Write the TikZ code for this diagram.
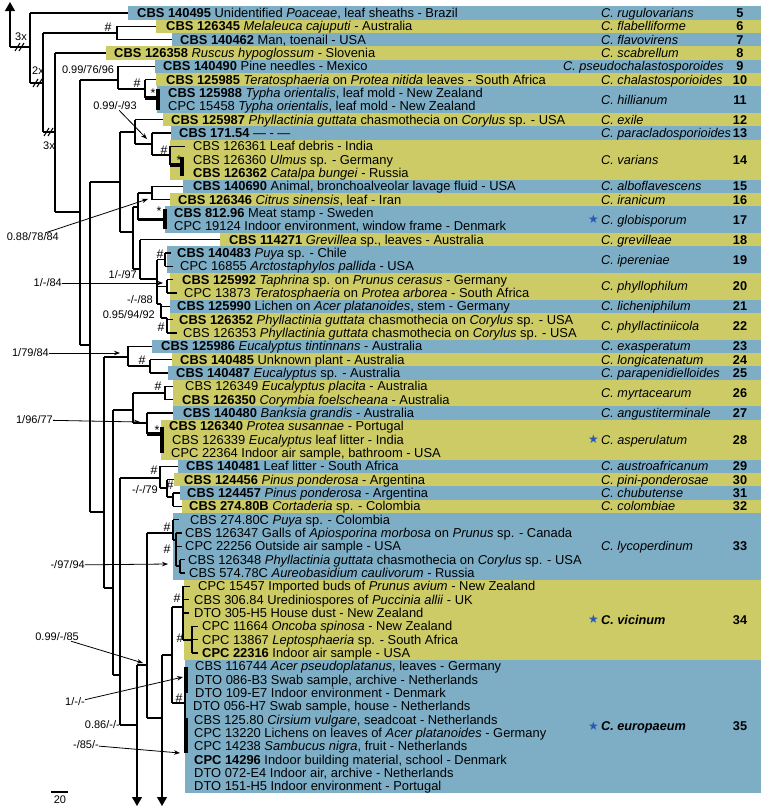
\documentclass[tikz,border=0pt]{standalone}
\usepackage{fontspec}
\setmainfont{Liberation Sans}
\newfontfamily\symfont{DejaVu Sans}
\usetikzlibrary{arrows.meta}
\definecolor{bandblue}{RGB}{125,174,198}
\definecolor{bandyellow}{RGB}{204,203,102}
\definecolor{starblue}{RGB}{40,90,180}
% row centre of isolate #1
\newcommand{\rowy}[1]{13+13.333*#1}
\newcommand{\isolate}[3]{\node[strain] (r#1) at (#2,{\rowy{#1}+4.6}) {#3};}
\newcommand{\band}[4]{\fill[#4] (#1,{\rowy{#2}-6.67}) rectangle (761,{\rowy{#3}+6.67});}
\newcommand{\taxon}[4]{%
  \node[species] (sp#4) at (#1,{\rowy{#2}+4.5}) {#3};
  \node[cladeno] (no#4) at (740,{\rowy{#2}+4.5}) {#4};}
\newcommand{\startag}[2]{\node[startag] (st#1) at (599,{\rowy{#2}+4.3}) {★};}
\newcommand{\hash}[3]{\node[nodemark] (#1) at (#2,#3) {\#};}
\newcommand{\full}[3]{\node[nodemark] (#1) at (#2,#3) {*};}
\tikzset{
  strain/.style={anchor=base west, inner sep=0pt, font=\fontsize{12.9}{13.3}\selectfont},
  species/.style={anchor=base west, inner sep=0pt, font=\fontsize{12.7}{13}\selectfont\itshape},
  cladeno/.style={anchor=base, inner sep=0pt, font=\fontsize{12.7}{13}\selectfont\bfseries},
  startag/.style={anchor=base east, inner sep=0pt, text=starblue, font=\symfont\fontsize{12}{12}\selectfont},
  support/.style={inner sep=0pt, font=\fontsize{11}{11}\selectfont},
  nodemark/.style={inner sep=0pt, font=\fontsize{12.5}{12.5}\selectfont},
  branch/.style={line width=1.1pt},
  fullsup/.style={line width=3.4pt},
  pointer/.style={line width=0.8pt, -{Stealth[length=6pt,width=4.5pt]}},
  cut/.style={line width=1.1pt, -{Triangle[width=10pt,length=9pt]}},
}
\begin{document}
\begin{tikzpicture}[x=1pt,y=-1pt]
\useasboundingbox (0,0) rectangle (761,807);

% coloured bands
\band{128}{0}{0}{bandblue}
\band{156}{1}{1}{bandyellow}
\band{172}{2}{2}{bandblue}
\band{106}{3}{3}{bandyellow}
\band{155}{4}{4}{bandblue}
\band{156}{5}{5}{bandyellow}
\band{157}{6}{7}{bandblue}
\band{163}{8}{8}{bandyellow}
\band{171}{9}{9}{bandblue}
\band{170}{10}{12}{bandyellow}
\band{183}{13}{13}{bandblue}
\band{170}{14}{14}{bandyellow}
\band{165}{15}{16}{bandblue}
\band{220}{17}{17}{bandyellow}
\band{167}{18}{19}{bandblue}
\band{170}{20}{21}{bandyellow}
\band{170}{22}{22}{bandblue}
\band{170}{23}{24}{bandyellow}
\band{152}{25}{25}{bandblue}
\band{172}{26}{26}{bandyellow}
\band{168}{27}{27}{bandblue}
\band{173}{28}{29}{bandyellow}
\band{173}{30}{30}{bandblue}
\band{161}{31}{33}{bandyellow}
\band{178}{34}{34}{bandblue}
\band{174}{35}{35}{bandyellow}
\band{180}{36}{36}{bandblue}
\band{182}{37}{37}{bandyellow}
\band{173}{38}{42}{bandblue}
\band{184}{43}{48}{bandyellow}
\band{185}{49}{58}{bandblue}

% isolates
\isolate{0}{137}{\textbf{CBS 140495} Unidentified \textit{Poaceae}, leaf sheaths - Brazil}
\isolate{1}{166}{\textbf{CBS 126345} \textit{Melaleuca cajuputi} - Australia}
\isolate{2}{180}{\textbf{CBS 140462} Man, toenail - USA}
\isolate{3}{114}{\textbf{CBS 126358} \textit{Ruscus hypoglossum} - Slovenia}
\isolate{4}{163}{\textbf{CBS 140490} Pine needles - Mexico}
\isolate{5}{166}{\textbf{CBS 125985} \textit{Teratosphaeria} on \textit{Protea nitida} leaves - South Africa}
\isolate{6}{168}{\textbf{CBS 125988} \textit{Typha orientalis}, leaf mold - New Zealand}
\isolate{7}{168}{CPC 15458 \textit{Typha orientalis}, leaf mold - New Zealand}
\isolate{8}{171}{\textbf{CBS 125987} \textit{Phyllactinia guttata} chasmothecia on \textit{Corylus} sp. - USA}
\isolate{9}{179}{\textbf{CBS 171.54} — - —}
\isolate{10}{193}{CBS 126361 Leaf debris - India}
\isolate{11}{193}{CBS 126360 \textit{Ulmus} sp. - Germany}
\isolate{12}{193}{\textbf{CBS 126362} \textit{Catalpa bungei} - Russia}
\isolate{13}{193}{\textbf{CBS 140690} Animal, bronchoalveolar lavage fluid - USA}
\isolate{14}{178}{\textbf{CBS 126346} \textit{Citrus sinensis}, leaf - Iran}
\isolate{15}{174}{\textbf{CBS 812.96} Meat stamp - Sweden}
\isolate{16}{174}{CPC 19124 Indoor environment, window frame - Denmark}
\isolate{17}{229}{\textbf{CBS 114271} \textit{Grevillea} sp., leaves - Australia}
\isolate{18}{177}{\textbf{CBS 140483} \textit{Puya} sp. - Chile}
\isolate{19}{180}{CPC 16855 \textit{Arctostaphylos pallida} - USA}
\isolate{20}{182}{\textbf{CBS 125992} \textit{Taphrina} sp. on \textit{Prunus cerasus} - Germany}
\isolate{21}{184}{CPC 13873 \textit{Teratosphaeria} on \textit{Protea arborea} - South Africa}
\isolate{22}{177}{\textbf{CBS 125990} Lichen on \textit{Acer platanoides}, stem - Germany}
\isolate{23}{179}{\textbf{CBS 126352} \textit{Phyllactinia guttata} chasmothecia on \textit{Corylus} sp. - USA}
\isolate{24}{183}{CBS 126353 \textit{Phyllactinia guttata} chasmothecia on \textit{Corylus} sp. - USA}
\isolate{25}{161}{\textbf{CBS 125986} \textit{Eucalyptus tintinnans} - Australia}
\isolate{26}{180}{\textbf{CBS 140485} Unknown plant - Australia}
\isolate{27}{176}{\textbf{CBS 140487} \textit{Eucalyptus} sp. - Australia}
\isolate{28}{185}{CBS 126349 \textit{Eucalyptus placita} - Australia}
\isolate{29}{182}{\textbf{CBS 126350} \textit{Corymbia foelscheana} - Australia}
\isolate{30}{183}{\textbf{CBS 140480} \textit{Banksia grandis} - Australia}
\isolate{31}{169}{\textbf{CBS 126340} \textit{Protea susannae} - Portugal}
\isolate{32}{172}{CBS 126339 \textit{Eucalyptus} leaf litter - India}
\isolate{33}{171}{CPC 22364 Indoor air sample, bathroom - USA}
\isolate{34}{186}{\textbf{CBS 140481} Leaf litter - South Africa}
\isolate{35}{184}{\textbf{CBS 124456} \textit{Pinus ponderosa} - Argentina}
\isolate{36}{187}{\textbf{CBS 124457} \textit{Pinus ponderosa} - Argentina}
\isolate{37}{189}{\textbf{CBS 274.80B} \textit{Cortaderia} sp. - Colombia}
\isolate{38}{190}{CBS 274.80C \textit{Puya} sp. - Colombia}
\isolate{39}{185}{CBS 126347 Galls of \textit{Apiosporina morbosa} on \textit{Prunus} sp. - Canada}
\isolate{40}{185}{CPC 22256 Outside air sample - USA}
\isolate{41}{188}{CBS 126348 \textit{Phyllactinia guttata} chasmothecia on \textit{Corylus} sp. - USA}
\isolate{42}{189}{CBS 574.78C \textit{Aureobasidium caulivorum} - Russia}
\isolate{43}{198}{CPC 15457 Imported buds of \textit{Prunus avium} - New Zealand}
\isolate{44}{194}{CBS 306.84 Urediniospores of \textit{Puccinia allii} - UK}
\isolate{45}{194}{DTO 305-H5 House dust - New Zealand}
\isolate{46}{202}{CPC 11664 \textit{Oncoba spinosa} - New Zealand}
\isolate{47}{202}{CPC 13867 \textit{Leptosphaeria} sp. - South Africa}
\isolate{48}{202}{\textbf{CPC 22316} Indoor air sample - USA}
\isolate{49}{195}{CBS 116744 \textit{Acer pseudoplatanus}, leaves - Germany}
\isolate{50}{195}{DTO 086-B3 Swab sample, archive - Netherlands}
\isolate{51}{195}{DTO 109-E7 Indoor environment - Denmark}
\isolate{52}{193}{DTO 056-H7 Swab sample, house - Netherlands}
\isolate{53}{194}{CBS 125.80 \textit{Cirsium vulgare}, seadcoat - Netherlands}
\isolate{54}{194}{CPC 13220 Lichens on leaves of \textit{Acer platanoides} - Germany}
\isolate{55}{194}{CPC 14238 \textit{Sambucus nigra}, fruit - Netherlands}
\isolate{56}{194}{\textbf{CPC 14296} Indoor building material, school - Denmark}
\isolate{57}{194}{DTO 072-E4 Indoor air, archive - Netherlands}
\isolate{58}{194}{DTO 151-H5 Indoor environment - Portugal}

% species and clade numbers
\taxon{601}{0}{C. rugulovarians}{5}
\taxon{601}{1}{C. flabelliforme}{6}
\taxon{601}{2}{C. flavovirens}{7}
\taxon{601}{3}{C. scabrellum}{8}
\taxon{563}{4}{C. pseudochalastosporoides}{9}
\taxon{601}{5}{C. chalastosporioides}{10}
\taxon{601}{6.5}{C. hillianum}{11}
\taxon{601}{8}{C. exile}{12}
\taxon{601}{9}{C. paracladosporioides}{13}
\taxon{601}{11}{C. varians}{14}
\taxon{601}{13}{C. alboflavescens}{15}
\taxon{601}{14}{C. iranicum}{16}
\taxon{601}{15.5}{C. globisporum}{17}
\taxon{601}{17}{C. grevilleae}{18}
\taxon{601}{18.5}{C. ipereniae}{19}
\taxon{601}{20.5}{C. phyllophilum}{20}
\taxon{601}{22}{C. licheniphilum}{21}
\taxon{601}{23.5}{C. phyllactiniicola}{22}
\taxon{601}{25}{C. exasperatum}{23}
\taxon{601}{26}{C. longicatenatum}{24}
\taxon{601}{27}{C. parapenidielloides}{25}
\taxon{601}{28.5}{C. myrtacearum}{26}
\taxon{601}{30}{C. angustiterminale}{27}
\taxon{601}{32}{C. asperulatum}{28}
\taxon{601}{34}{C. austroafricanum}{29}
\taxon{601}{35}{C. pini-ponderosae}{30}
\taxon{601}{36}{C. chubutense}{31}
\taxon{601}{37}{C. colombiae}{32}
\taxon{601}{40}{C. lycoperdinum}{33}
\taxon{601}{45.5}{\textbf{C. vicinum}}{34}
\taxon{601}{53.5}{\textbf{C. europaeum}}{35}
\startag{17}{15.5}
\startag{28}{32}
\startag{34}{45.5}
\startag{35}{53.5}

% tree, upper part
\draw[cut] (10,47) -- (10,2);
\draw[branch] (10,47) -- (30,47)
  (30,13) -- (128,13) (30,13) -- (30,83) (30,83) -- (43,83)
  (43,33) -- (43,132) (43,33) -- (117,33)
  (117,26.3) -- (117,39.7) (117,26.3) -- (156,26.3) (117,39.7) -- (172,39.7)
  (43,132) -- (55,132) (55,53) -- (55,212) (55,53) -- (106,53) (55,212) -- (80,212)
  (80,80) -- (80,345) (80,80) -- (118,80)
  (118,66.3) -- (118,89) (118,66.3) -- (155,66.3) (118,89) -- (145,89)
  (145,79.7) -- (145,98) (145,79.7) -- (156,79.7);
\draw[fullsup] (145,98) -- (158,98) (158,89) -- (158,110);

% tree, middle part
\draw[branch] (80,345) -- (90,345) (90,182) -- (90,512) (90,182) -- (120,182)
  (120,132) -- (120,232) (120,132) -- (135,132) (120,232) -- (133,232)
  (135,119.7) -- (135,144) (135,119.7) -- (163,119.7) (135,144) -- (152,144)
  (152,133) -- (152,155) (152,133) -- (171,133) (152,155) -- (170,155)
  (170,146.3) -- (170,165) (170,146.3) -- (185,146.3)
  (133,207) -- (133,269) (133,207) -- (138,207) (133,269) -- (140,269)
  (138,193) -- (138,219.7) (138,193) -- (152,193)
  (152,186.3) -- (152,199.7) (152,186.3) -- (183,186.3) (152,199.7) -- (170,199.7)
  (140,239.7) -- (140,279) (140,239.7) -- (220,239.7) (140,279) -- (157,279)
  (157,259.7) -- (157,304) (157,259.7) -- (165,259.7) (157,286.3) -- (167,286.3) (157,304) -- (161,304)
  (165,253) -- (165,266.3) (165,253) -- (171,253) (165,266.3) -- (173,266.3)
  (167,279.7) -- (167,293) (167,279.7) -- (173,279.7) (167,293) -- (177,293)
  (161,304) -- (161,318) (161,306.3) -- (170,306.3) (161,318) -- (167,318)
  (167,318) -- (167,333) (167,319.7) -- (173,319.7) (167,333) -- (177,333);
\draw[fullsup] (170,165) -- (182,165) (182,157) -- (182,176)
  (138,219.7) -- (165,219.7) (165,209) -- (165,229);

% tree, lower part
\draw[branch] (90,512) -- (104,512) (104,357) -- (104,588)
  (104,357) -- (128,357) (128,346.3) -- (128,366) (128,346.3) -- (152,346.3) (128,366) -- (150,366)
  (150,359.7) -- (150,373) (150,359.7) -- (172,359.7) (150,373) -- (168,373)
  (104,588) -- (113,588) (113,410) -- (113,675) (113,410) -- (133,410)
  (133,393) -- (133,423) (133,393) -- (165,393)
  (165,386.3) -- (165,399.7) (165,386.3) -- (173,386.3) (165,399.7) -- (173,399.7)
  (133,423) -- (147,423) (147,413) -- (147,434) (147,413) -- (173,413)
  (113,675) -- (120,675) (120,478) -- (120,725) (120,478) -- (160,478)
  (160,466.3) -- (160,488) (160,466.3) -- (178,466.3) (160,488) -- (167,488)
  (167,479.7) -- (167,497) (167,479.7) -- (174,479.7) (167,497) -- (173,497)
  (173,493) -- (173,506.3) (173,493) -- (180,493) (173,506.3) -- (182,506.3)
  (120,725) -- (137,725) (137,665) -- (147,665)
  (147,533) -- (147,718) (147,533) -- (173,533) (147,718) -- (162,718)
  (173,519.7) -- (173,540) (173,519.7) -- (179,519.7) (173,540) -- (176,540)
  (176,533) -- (176,566) (176,533) -- (182,533) (176,546.3) -- (182,546.3) (176,566) -- (180,566)
  (180,559.7) -- (180,573) (180,559.7) -- (185,559.7) (180,573) -- (185,573)
  (162,655) -- (172,655) (172,607) -- (172,703) (172,607) -- (183,607)
  (183,586.3) -- (183,640) (183,586.3) -- (190,586.3) (183,599.7) -- (189,599.7) (183,613) -- (189,613)
  (183,640) -- (192,640) (192,626.3) -- (192,653) (192,626.3) -- (198,626.3) (192,639.7) -- (198,639.7) (192,653) -- (198,653)
  (172,703) -- (185,703) (185,667) -- (185,753);
\draw[fullsup] (147,434) -- (162,434) (162,427) -- (162,453);
\draw[line width=2.2pt] (186.5,667) -- (186.5,693) (186.5,718) -- (186.5,753);
\draw[cut] (137,665) -- (137,806);
\draw[cut] (162,655) -- (162,806);

% breaks in long branches
\node[support] (b3a) at (21,37) {3x};
\draw[branch] (15,51) -- (20,43) (19,51) -- (24,43);
\node[support] (b2) at (38,71) {2x};
\draw[branch] (33,87) -- (38,79) (37,87) -- (42,79);
\node[support] (b3b) at (49,146) {3x};
\draw[branch] (44,136) -- (49,128) (48,136) -- (53,128);

% hash and star marks
\hash{h1}{108}{27}
\hash{h2}{137}{83}
\full{a1}{153}{93}
\hash{h3}{164}{150}
\full{a2}{179}{160}
\full{a3}{159}{211}
\hash{h4}{160}{254}
\hash{h5}{161}{327}
\hash{h6}{142}{360}
\hash{h7}{158}{386}
\full{a4}{157}{430}
\hash{h8}{154}{470}
\hash{h9}{170}{485}
\hash{h10}{167}{527}
\hash{h11}{167}{549}
\hash{h12}{177}{598}
\hash{h13}{180}{638}
\hash{h14}{179}{698}

% support values
\node[support] (s1) at (88,70) {0.99/76/96};
\node[support] (s2) at (115,106) {0.99/-/93};
\coordinate (t2) at (147,139);
\draw[pointer] (s2) -- (t2);
\node[support,anchor=east] (s3) at (59,237) {0.88/78/84};
\coordinate (t3) at (148,199);
\draw[pointer] (s3) -- (t3);
\node[support,anchor=east] (s4) at (62,283) {1/-/84};
\coordinate (t4) at (163,283);
\draw[pointer] (s4) -- (t4);
\node[support,anchor=east] (s5) at (137,275) {1/-/97};
\node[support,anchor=east] (s6) at (153,300) {-/-/88};
\node[support,anchor=east] (s7) at (155,315) {0.95/94/92};
\node[support,anchor=east] (s8) at (49,353) {1/79/84};
\coordinate (t8) at (120,353);
\draw[pointer] (s8) -- (t8);
\node[support,anchor=east] (s9) at (53,420) {1/96/77};
\coordinate (t9) at (140,422);
\draw[pointer] (s9) -- (t9);
\node[support,anchor=east] (s10) at (158,490) {-/-/79};
\node[support,anchor=east] (s11) at (85,565) {-/97/94};
\coordinate (t11) at (168,564);
\draw[pointer] (s11) -- (t11);
\node[support,anchor=east] (s12) at (79,637) {0.99/-/85};
\coordinate (t12) at (143,663);
\draw[pointer] (s12) -- (t12);
\node[support,anchor=east] (s13) at (85,702) {1/-/-};
\coordinate (t13) at (183,677);
\draw[pointer] (s13) -- (t13);
\node[support,anchor=east] (s14) at (120,725) {0.86/-/-};
\node[support,anchor=east] (s15) at (99,745) {-/85/-};
\coordinate (t15) at (180,753);
\draw[pointer] (s15) -- (t15);

% scale bar
\draw[branch] (51,792) -- (68,792);
\node[support] (sc) at (60,800) {20};
\end{tikzpicture}
\end{document}
